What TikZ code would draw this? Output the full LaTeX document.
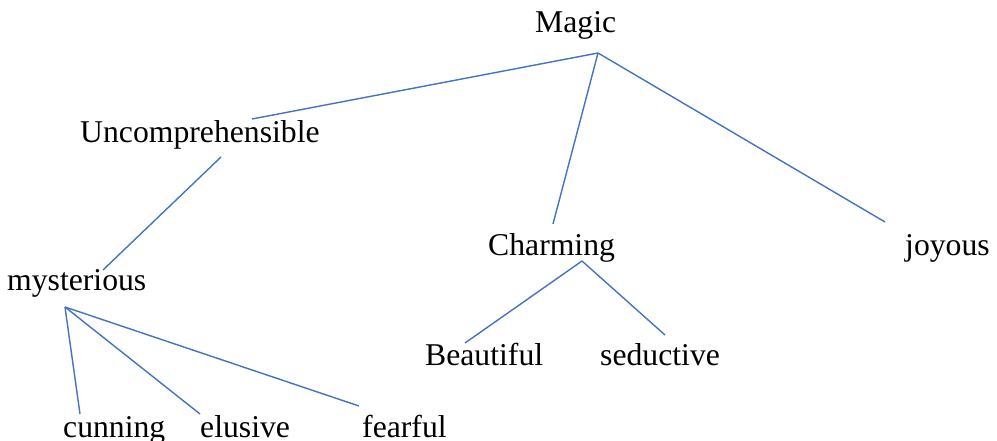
\documentclass[tikz,border=0pt]{standalone}
\usepackage{fontspec}
\setmainfont{Liberation Serif}
\begin{document}
\begin{tikzpicture}[x=1pt,y=-1pt,
  word/.style={inner sep=0pt,anchor=base west,font=\fontsize{31.7}{38}\selectfont},
  link/.style={draw={rgb,255:red,68;green,114;blue,196},line width=1.4pt}]
\useasboundingbox[fill=white] (0,0) rectangle (997,441);
\node[word] (magic) at (535,33) {Magic};
\node[word] (unc) at (80,143) {Uncomprehensible};
\node[word] (charm) at (488,255) {Charming};
\node[word] (joy) at (905,255) {joyous};
\node[word] (myst) at (7,290) {mysterious};
\node[word] (beau) at (425,365) {Beautiful};
\node[word] (sed) at (600,365) {seductive};
\node[word] (cun) at (63,437) {cunning};
\node[word] (elu) at (200,437) {elusive};
\node[word] (fear) at (362,437) {fearful};
\coordinate (magicB) at (598,53);
\coordinate (uncT) at (252,119);
\coordinate (uncB) at (221,157);
\coordinate (charmT) at (553,224);
\coordinate (charmB) at (582,261);
\coordinate (joyT) at (885,222);
\coordinate (mystT) at (103,270);
\coordinate (mystB) at (65,307);
\coordinate (beauT) at (465,343);
\coordinate (sedT) at (665,335);
\coordinate (cunT) at (80,414);
\coordinate (eluT) at (200,414);
\coordinate (fearT) at (359,406);
\draw[link] (magicB) -- (uncT);
\draw[link] (magicB) -- (charmT);
\draw[link] (magicB) -- (joyT);
\draw[link] (uncB) -- (mystT);
\draw[link] (charmB) -- (beauT);
\draw[link] (charmB) -- (sedT);
\draw[link] (mystB) -- (cunT);
\draw[link] (mystB) -- (eluT);
\draw[link] (mystB) -- (fearT);
\end{tikzpicture}
\end{document}
